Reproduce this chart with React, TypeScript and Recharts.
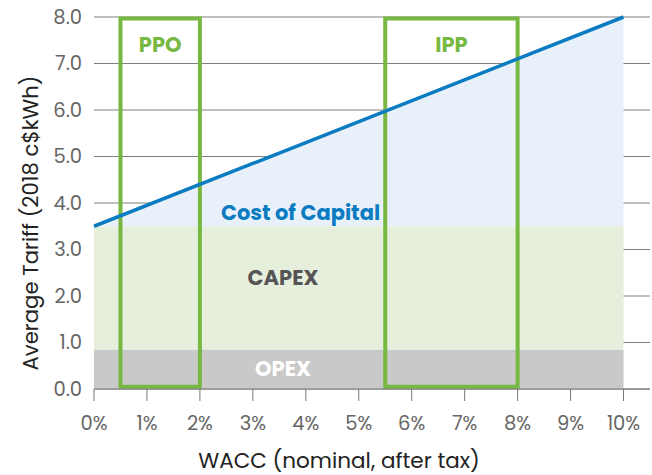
import {
  ComposedChart,
  Area,
  Line,
  XAxis,
  YAxis,
  CartesianGrid,
  ReferenceArea,
  ReferenceDot,
} from "recharts";

// WACC (%) at the two ends of the range
const wacc = [0, 10];
const opex = [0.85, 0.85];
const capex = [2.65, 2.65];
const costOfCapital = [0, 4.5];
const tariff = [3.5, 8.0];

const xTicks = [0, 1, 2, 3, 4, 5, 6, 7, 8, 9, 10];
const yTicks = [0, 1, 2, 3, 4, 5, 6, 7, 8];

const boxes = [
  { name: "PPO", from: 0.5, to: 2 },
  { name: "IPP", from: 5.5, to: 8 },
];

const data = wacc.map((w, i) => ({
  wacc: w,
  opex: opex[i],
  capex: capex[i],
  coc: costOfCapital[i],
  tariff: tariff[i],
}));

const font = "Poppins, Inter, 'Noto Sans', sans-serif";
const green = "#77B843";

const boldLabel = (value: string, fill: string) => ({
  value,
  position: "center" as const,
  fill,
  fontSize: 21,
  fontWeight: 700,
  fontFamily: font,
});

export default function App() {
  return (
    <div style={{ position: "absolute", left: 0, top: 0, fontFamily: font }}>
      <ComposedChart
        width={652}
        height={475}
        data={data}
        margin={{ top: 17, right: 2, bottom: 0, left: 0 }}
      >
        <CartesianGrid vertical={false} stroke="#808080" strokeWidth={1.2} />
        <XAxis
          dataKey="wacc"
          type="number"
          domain={[0, 10.5]}
          ticks={xTicks}
          tickFormatter={(v) => `${v}%`}
          height={86}
          tickSize={12}
          tickMargin={15}
          stroke="#777"
          tick={{ fill: "#666", fontSize: 19.5, fontFamily: font }}
          label={({ viewBox }: any) => (
            <text
              x={viewBox.x + viewBox.width / 2 - 33}
              y={viewBox.y + 71}
              textAnchor="middle"
              dominantBaseline="central"
              fill="#222"
              fontSize={21.5}
              fontFamily={font}
            >
              WACC (nominal, after tax)
            </text>
          )}
        />
        <YAxis
          domain={[0, 8]}
          ticks={yTicks}
          width={94}
          axisLine={false}
          tickLine={false}
          tickMargin={6}
          tickFormatter={(v) => v.toFixed(1)}
          tick={{ fill: "#666", fontSize: 19.5, fontFamily: font }}
          label={({ viewBox }: any) => {
            const cx = viewBox.x + 30;
            const cy = viewBox.y + viewBox.height / 2 + 20;
            return (
              <text
                x={cx}
                y={cy}
                transform={`rotate(-90 ${cx} ${cy})`}
                textAnchor="middle"
                dominantBaseline="central"
                fill="#222"
                fontSize={21.2}
                fontFamily={font}
              >
                Average Tariff (2018 c$kWh)
              </text>
            );
          }}
        />
        <Area
          dataKey="opex"
          stackId="t"
          stroke="none"
          fill="#c9c9c9"
          fillOpacity={1}
          isAnimationActive={false}
        />
        <Area
          dataKey="capex"
          stackId="t"
          stroke="none"
          fill="#e6efdc"
          fillOpacity={1}
          isAnimationActive={false}
        />
        <Area
          dataKey="coc"
          stackId="t"
          stroke="none"
          fill="#e8f1fa"
          fillOpacity={1}
          isAnimationActive={false}
        />
        <Line
          dataKey="tariff"
          stroke="#0b7cc1"
          strokeWidth={3.5}
          dot={false}
          isAnimationActive={false}
        />
        {boxes.map((b) => (
          <ReferenceArea
            key={b.name}
            x1={b.from}
            x2={b.to}
            y1={0.05}
            y2={7.97}
            fill="none"
            stroke={green}
            strokeWidth={4}
            ifOverflow="visible"
          />
        ))}
        {boxes.map((b) => (
          <ReferenceDot
            key={b.name + "-label"}
            x={(b.from + b.to) / 2}
            y={7.4}
            r={0}
            label={boldLabel(b.name, green)}
          />
        ))}
        <ReferenceDot x={3.9} y={3.8} r={0} label={boldLabel("Cost of Capital", "#0b7cc1")} />
        <ReferenceDot x={3.57} y={2.4} r={0} label={boldLabel("CAPEX", "#555")} />
        <ReferenceDot x={3.57} y={0.45} r={0} label={boldLabel("OPEX", "#fff")} />
      </ComposedChart>
    </div>
  );
}
